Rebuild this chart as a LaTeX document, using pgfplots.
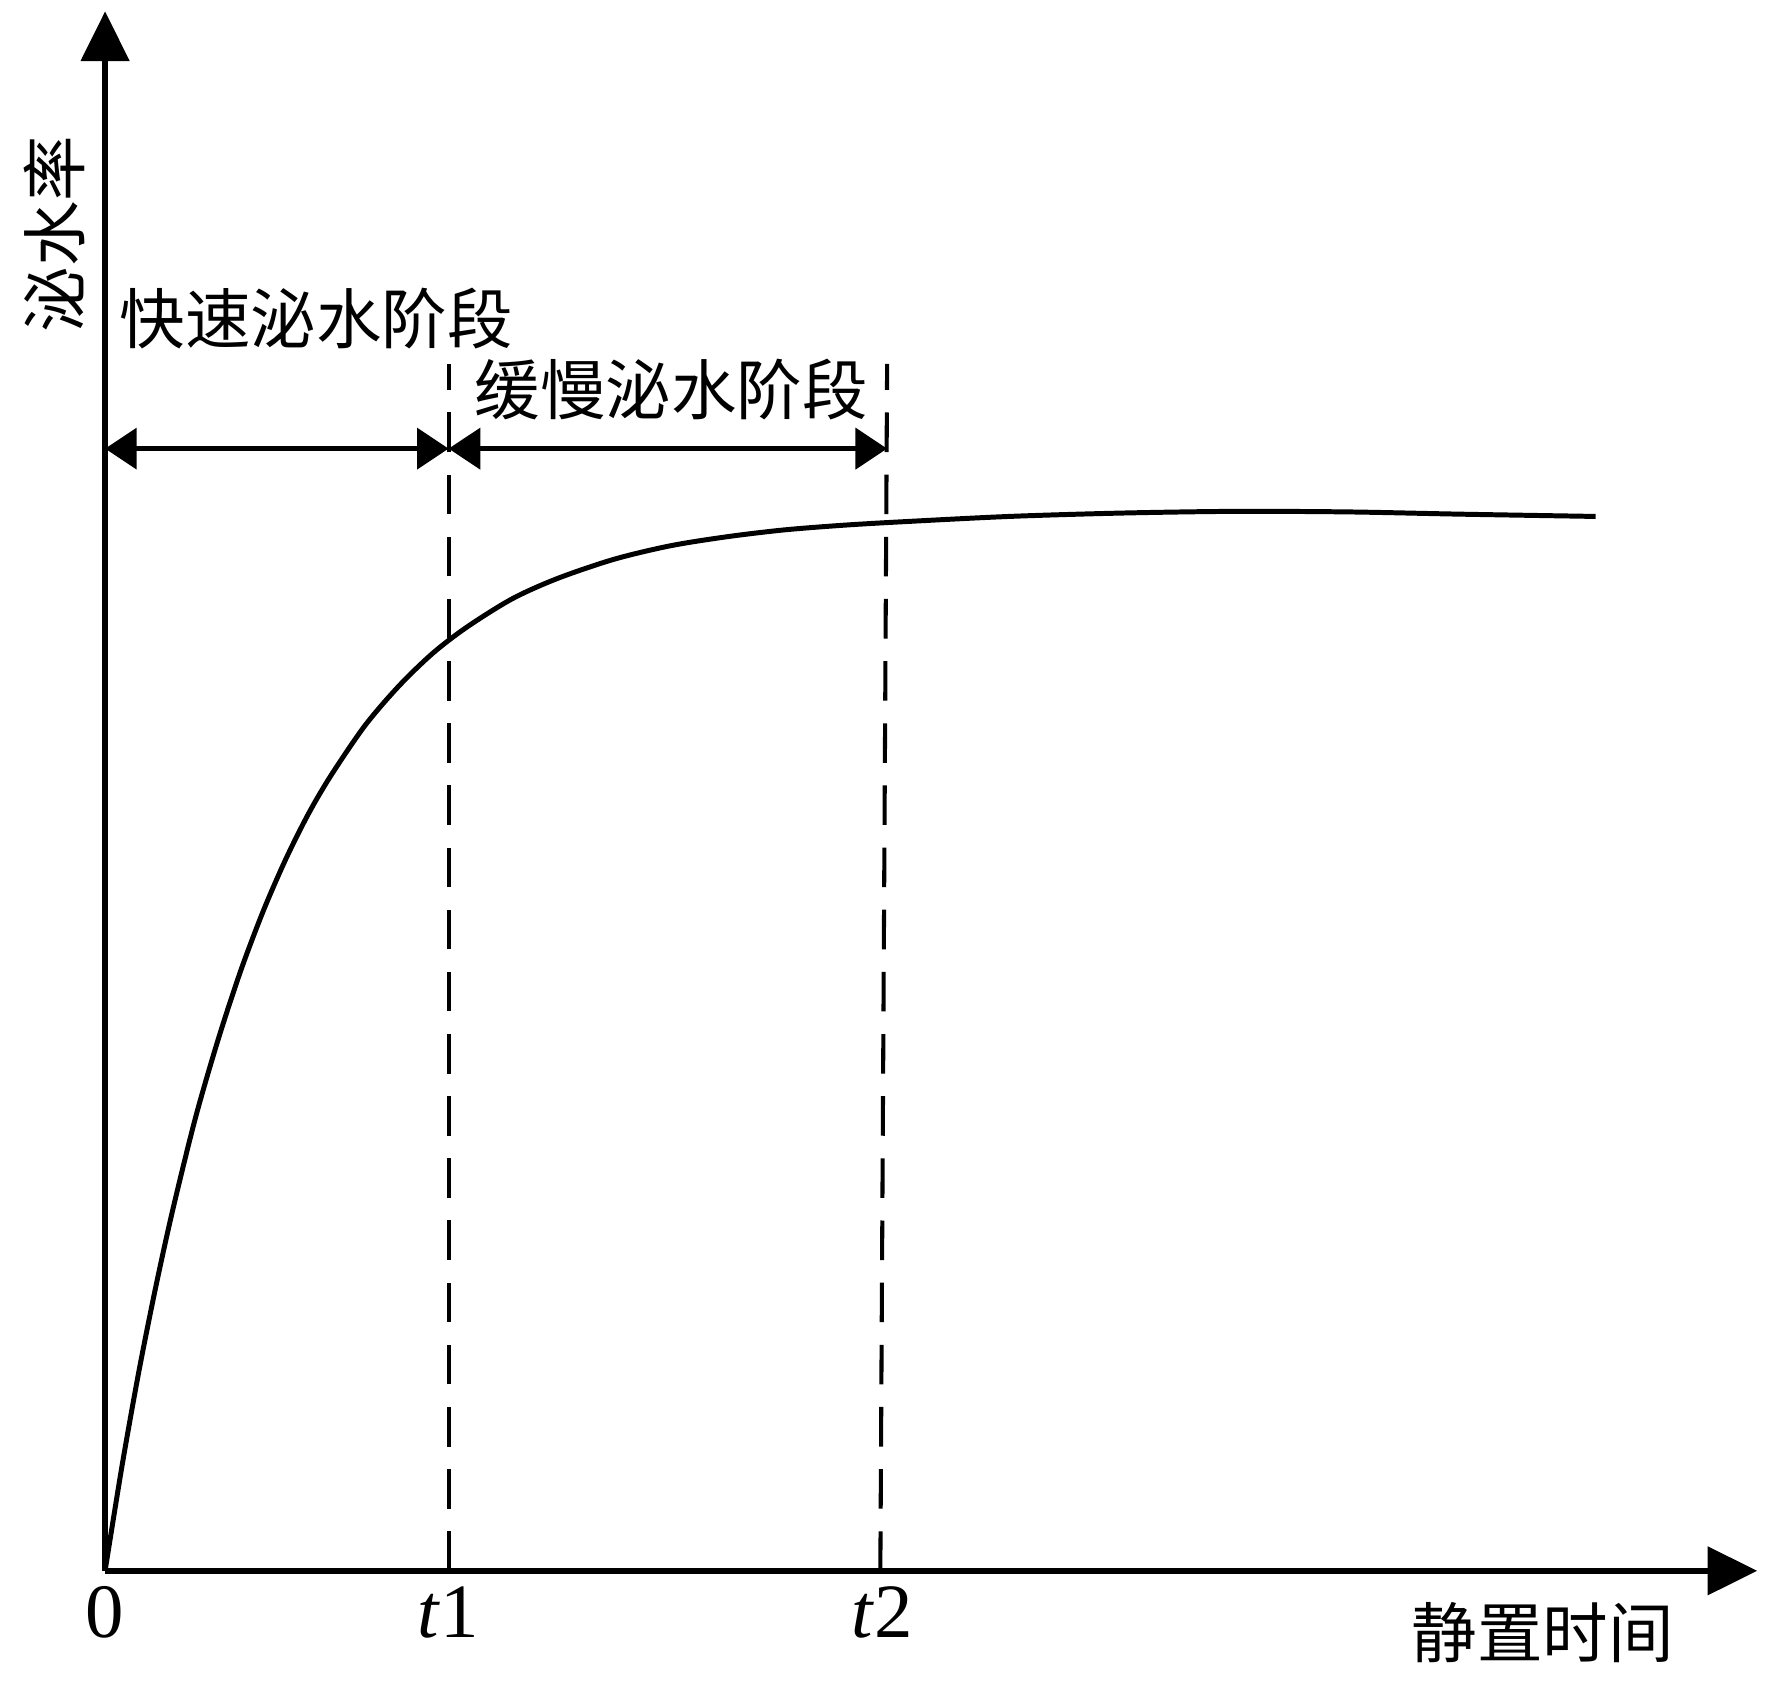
\documentclass[border=0pt]{standalone}
\usepackage{fontspec}
\setmainfont{Liberation Serif}
\newfontfamily\cjk{Noto Sans CJK SC}
\usepackage{pgfplots}
\pgfplotsset{compat=1.18}
\usetikzlibrary{arrows.meta}

\begin{document}
\begin{tikzpicture}
\begin{axis}[
    scale only axis,
    width=365.5pt,
    height=345pt,
    xmin=0, xmax=1462,
    ymin=0, ymax=1380,
    axis lines=left,
    axis line style={line width=1.4pt, -{Triangle[length=11pt,width=10.5pt]}},
    xtick={0,304,688},
    xticklabels={0,\textit{t}1,\textit{t}2},
    ytick=\empty,
    major tick length=0pt,
    tick label style={font=\fontsize{17}{20}\selectfont},
    clip=false,
]
% curve
\addplot[line width=1.1pt, smooth, tension=0.5] coordinates {
    (0,0) (15,93) (30,177) (45,252) (60,320) (80,401) (100,470)
    (120,531) (140,584) (160,630) (180,670) (200,704) (230,748)
    (260,783) (290,812) (320,835) (360,860) (400,878) (450,895)
    (500,907) (550,915) (600,921) (650,925) (700,928) (800,933)
    (900,936) (1000,937.5) (1100,937) (1200,935) (1319,933)
};
% stage boundaries
\draw[line width=0.9pt, dash pattern=on 8.75pt off 5pt] (axis cs:304,0) -- (axis cs:304,1068);
\draw[line width=0.9pt, dash pattern=on 8.75pt off 5pt] (axis cs:686,0) -- (axis cs:692,1068);
% stage arrows
\draw[line width=1.1pt, {Triangle[length=7pt,width=9pt]}-{Triangle[length=7pt,width=9pt]}]
    (axis cs:0,993) -- (axis cs:304,993);
\draw[line width=1.1pt, {Triangle[length=7pt,width=9pt]}-{Triangle[length=7pt,width=9pt]}]
    (axis cs:304,993) -- (axis cs:692,993);
% texts
\node[anchor=west, inner sep=0, font=\cjk\fontsize{14.5}{17}\selectfont] at (axis cs:12,1108) {快速泌水阶段};
\node[inner sep=0, font=\cjk\fontsize{14.5}{17}\selectfont] at (axis cs:501,1045) {缓慢泌水阶段};
\node[inner sep=0, rotate=90, font=\cjk\fontsize{14.5}{17}\selectfont] at (axis cs:-45,1183) {泌水率};
\node[inner sep=0, font=\cjk\fontsize{14.5}{17}\selectfont] at (axis cs:1272,-55) {静置时间};
% page frame
\path (axis cs:-93,1390) rectangle (axis cs:1475,-99);
\end{axis}
\end{tikzpicture}
\end{document}
